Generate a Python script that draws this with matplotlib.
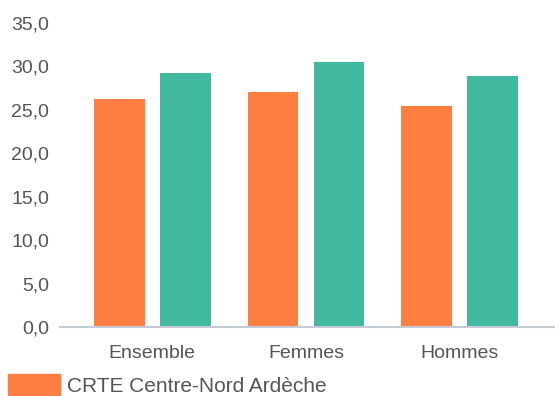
import matplotlib
matplotlib.use("Agg")
import matplotlib.pyplot as plt
from matplotlib.patches import Patch
import numpy as np

categories = ["Ensemble", "Femmes", "Hommes"]
series_names = ["CRTE Centre-Nord Ardèche", "Auvergne-Rhône-Alpes"]
crte_values = [26.2, 27.1, 25.5]
region_values = [29.3, 30.5, 28.9]
yticks = [0, 5, 10, 15, 20, 25, 30, 35]

orange = "#FF7F42"
teal = "#40B9A0"
text_color = "#555555"

plt.rcParams['font.family'] = ['Liberation Sans', 'DejaVu Sans']

fig = plt.figure(figsize=(5.55, 3.96), dpi=100)
ax = fig.add_axes([60/555, (396-327)/396, 1 - 60/555, (327-23)/396])

x = np.arange(len(categories))
w = 0.33
off = 0.215
ax.bar(x - off, crte_values, width=w, color=orange, zorder=2, label=series_names[0])
ax.bar(x + off, region_values, width=w, color=teal, zorder=2, label=series_names[1])

ax.set_xlim(-0.60, 2.62)
ax.set_ylim(0, 35)
ax.set_yticks(yticks)
ax.set_yticklabels([f"{v:.1f}".replace(".", ",") for v in yticks])
ax.set_xticks(x)
ax.set_xticklabels(categories)
ax.tick_params(axis='both', length=0, labelsize=14, colors=text_color)
ax.tick_params(axis='y', pad=8)
ax.tick_params(axis='x', pad=13)
for s in ['top', 'right', 'left']:
    ax.spines[s].set_visible(False)
ax.spines['bottom'].set_color('#C5CAD6')
ax.spines['bottom'].set_linewidth(1.5)
ax.spines['bottom'].set_zorder(3)

# Only the first legend entry is visible in the (cropped) reference
handles = [Patch(color=orange)]
fig.legend(handles, series_names[:1], loc='upper left',
           bbox_to_anchor=(8/555, 1 - 374/396), bbox_transform=fig.transFigure,
           frameon=False, handlelength=2.5, handleheight=1.2,
           borderpad=0, borderaxespad=0, handletextpad=0.35,
           fontsize=15, labelcolor=text_color)

fig.savefig("out.png", dpi=100)
